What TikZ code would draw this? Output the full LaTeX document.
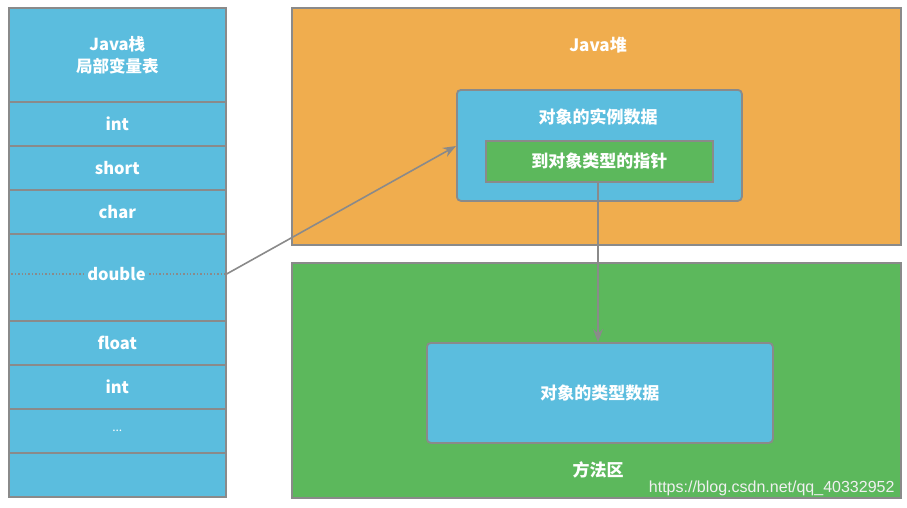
\documentclass[tikz,border=0pt]{standalone}
\usepackage{fontspec}
\setmainfont{Noto Sans CJK SC}
\newfontfamily\markfont{Liberation Sans}
\usetikzlibrary{arrows.meta}
\definecolor{stackblue}{HTML}{5BBDDE}
\definecolor{heaporange}{HTML}{F0AD4E}
\definecolor{areagreen}{HTML}{5CB85C}
\definecolor{edgegray}{HTML}{8A8A8A}
\tikzset{
  cell/.style={draw=edgegray, line width=1.6pt, fill=stackblue, anchor=north west,
    minimum width=217pt, inner sep=0pt, text=white, font=\fontsize{16.5}{22}\selectfont\bfseries, align=center},
  region/.style={draw=edgegray, line width=1.6pt, anchor=north west, inner sep=0pt},
  objbox/.style={draw=edgegray, line width=1.8pt, fill=stackblue, rounded corners=4pt,
    anchor=north west, inner sep=0pt},
  caption/.style={text=white, font=\fontsize{17}{20}\selectfont\bfseries},
  link/.style={draw=edgegray, line width=1.6pt, -{Stealth[length=13pt,width=10pt]}}
}
\begin{document}
\begin{tikzpicture}[x=1pt, y=-1pt]
    \useasboundingbox (0,0) rectangle (907,507);
    \begin{scope}
      \node[cell, minimum height=94pt] (head) at (8,7) {Java栈\\局部变量表};
      \node[cell, minimum height=44pt] (int1) at (8,101) {int};
      \node[cell, minimum height=44pt] (short) at (8,145) {short};
      \node[cell, minimum height=44pt] (char) at (8,189) {char};
      \node[cell, minimum height=87pt] (dbl) at (8,233) {};
      \node[cell, minimum height=44pt] (float) at (8,320) {float};
      \node[cell, minimum height=44pt] (int2) at (8,364) {int};
      \node[cell, minimum height=44pt] (more) at (8,408) {\mdseries\fontsize{12}{14}\selectfont ...};
      \node[cell, minimum height=44pt] (last) at (8,452) {};
      \node[caption, font=\fontsize{16.5}{20}\selectfont\bfseries] (dbltext) at (116.5,274) {double};
      \draw[edgegray, line width=1.4pt, dotted] (dbl.west |- dbltext) -- (dbltext.west);
      \draw[edgegray, line width=1.4pt, dotted] (dbltext.east) -- (dbl.east |- dbltext);
    \end{scope}
    \begin{scope}
      \node[region, fill=heaporange, minimum width=609pt, minimum height=237pt] (heap) at (291,7) {};
      \node[caption] (heaptext) at (598,45) {Java堆};
      \node[objbox, minimum width=285pt, minimum height=111pt] (inst) at (456,89) {};
      \node[caption] (insttext) at (598,117) {对象的实例数据};
      \node[region, fill=areagreen, line width=1.8pt, minimum width=227pt, minimum height=41pt,
        caption] (ptr) at (485,140) {到对象类型的指针};
    \end{scope}
    \begin{scope}
      \node[region, fill=areagreen, minimum width=609pt, minimum height=235pt] (method) at (291,262) {};
      \node[objbox, minimum width=346pt, minimum height=100pt, caption] (klass) at (426,342) {对象的类型数据};
      \node[caption] (methodtext) at (598,470) {方法区};
      \node[text=white!88!gray, font=\markfont\fontsize{16}{19}\selectfont, anchor=east] (mark) at (898,488) {https://blog.csdn.net/qq\_40332952};
    \end{scope}
    \draw[link] (dbl.east |- dbltext) -- (inst.west |- 0,146);
    \draw[link] (ptr.south -| 598,0) -- (klass.north -| 598,0);
  \end{tikzpicture}
\end{document}
